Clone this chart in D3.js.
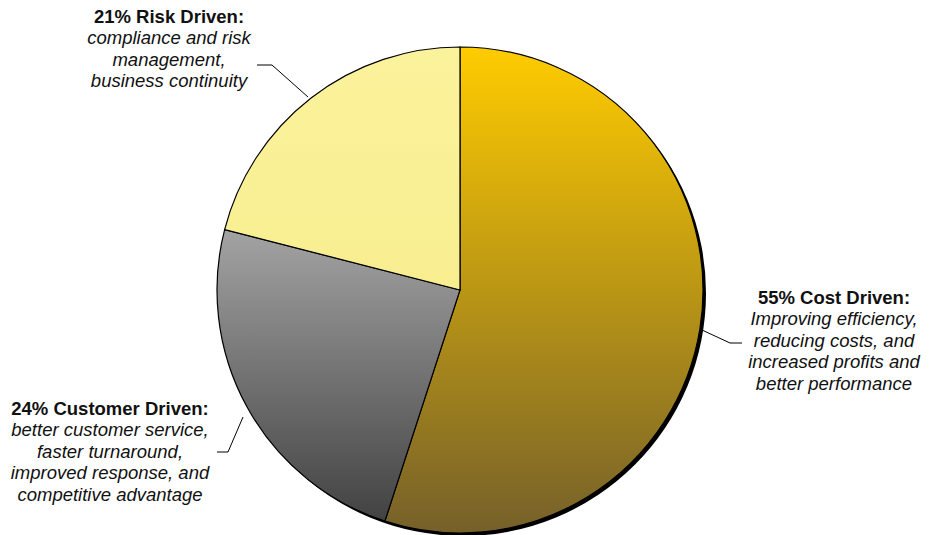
<!DOCTYPE html>
<html lang="en">
<head>
<meta charset="utf-8">
<title>Drivers pie</title>
<script src="https://d3js.org/d3.v7.min.js"></script>
<style>
  body { margin: 0; background: #fff; }
  text { font-family: "Liberation Sans", Arial, sans-serif; font-size: 18.5px; fill: #111; }
</style>
</head>
<body>
<script type="text/javascript">

// data
var categories = ["Cost Driven", "Customer Driven", "Risk Driven"];
var values = [55, 24, 21];
var descriptions = [
  ["Improving efficiency,", "reducing costs, and", "increased profits and", "better performance"],
  ["better customer service,", "faster turnaround,", "improved response, and", "competitive advantage"],
  ["compliance and risk", "management,", "business continuity"]
];
var gradTop = ["#ffcc00", "#a3a3a3", "#fbf29c"];
var gradBottom = ["#75602a", "#424242", "#f8ee90"];

var w = 935, h = 535;
var cx = 460, cy = 290, r = 243;

var svg = d3.select("body").append("svg")
  .attr("width", w)
  .attr("height", h);

var defs = svg.append("defs");
categories.forEach(function(c, i) {
  var g = defs.append("linearGradient")
    .attr("id", "grad" + i)
    .attr("x1", 0).attr("y1", 0).attr("x2", 0).attr("y2", 1);
  g.append("stop").attr("offset", "0%").attr("stop-color", gradTop[i]);
  g.append("stop").attr("offset", "100%").attr("stop-color", gradBottom[i]);
});

var pie = d3.pie().sort(null).value(function(d) { return d; });
var arcs = pie(values);
var arc = d3.arc().innerRadius(0).outerRadius(r);

var g = svg.append("g").attr("transform", "translate(" + cx + "," + cy + ")");

// shadow
g.append("circle")
  .attr("cx", 3).attr("cy", 3)
  .attr("r", r)
  .attr("fill", "#000");

g.selectAll("path.slice")
  .data(arcs)
  .enter()
  .append("path")
  .attr("class", "slice")
  .attr("d", arc)
  .attr("fill", function(d, i) { return "url(#grad" + i + ")"; })
  .attr("stroke", "#000")
  .attr("stroke-width", 1.2);

// leader lines: [point on pie edge, elbow, end] in absolute coords
var leaders = [
  [[702, 330], [730, 343], [742, 343]],
  [[243, 417], [228, 452], [217, 452]],
  [[308, 97], [272, 65], [257, 65]]
];
svg.selectAll("polyline.leader")
  .data(leaders)
  .enter()
  .append("polyline")
  .attr("class", "leader")
  .attr("points", function(d) { return d.map(function(p) { return p.join(","); }).join(" "); })
  .attr("fill", "none")
  .attr("stroke", "#000")
  .attr("stroke-width", 1);

// labels
var labelPos = [[834, 304], [110, 415], [169, 23]];
var lineH = 21.4;
arcs.forEach(function(a, i) {
  var t = svg.append("text")
    .attr("text-anchor", "middle")
    .attr("x", labelPos[i][0])
    .attr("y", labelPos[i][1]);
  t.append("tspan")
    .attr("x", labelPos[i][0])
    .attr("font-weight", "bold")
    .text(values[i] + "% " + categories[i] + ":");
  descriptions[i].forEach(function(line) {
    t.append("tspan")
      .attr("x", labelPos[i][0])
      .attr("dy", lineH)
      .attr("font-style", "italic")
      .text(line);
  });
});

</script>
</body>
</html>
